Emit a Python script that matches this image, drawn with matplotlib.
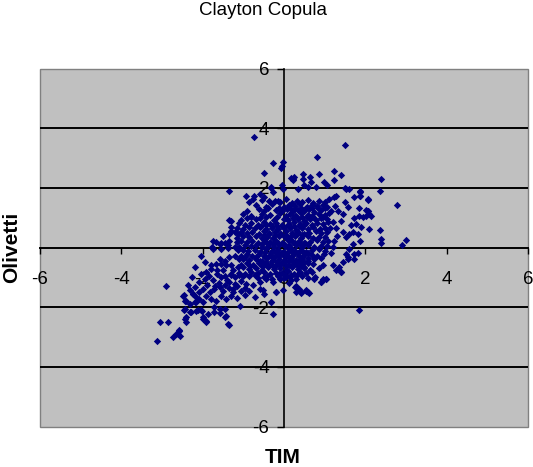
import numpy as np
import matplotlib
matplotlib.use('Agg')
import matplotlib.pyplot as plt
from matplotlib.patches import Rectangle

plt.rcParams['font.family'] = ['Liberation Sans', 'DejaVu Sans']

# points (TIM on x, Olivetti on y)
# sparse points above y=2
tim_top = [-0.74, -0.27, -0.05, -0.03, -0.50, -0.31, -1.34, 0.82, 1.49, 0.46,
           0.86, 1.22, 1.40, 1.22, 0.22, 0.24, 2.39, 2.35, 1.86, 1.53,
           1.59, 0.18, 0.22, 0.46, 0.63, 0.67, 0.50, 0.58, 0.79, 0.99,
           1.05, 0.34, -0.04, -0.03, -0.07, 1.28, 1.24, 1.86, 1.49]
oli_top = [3.70, 2.83, 2.72, 2.86, 2.51, 2.02, 1.89, 3.03, 3.45, 2.47,
           2.47, 2.56, 2.42, 2.25, 2.31, 2.36, 2.31, 1.89, 1.88, 1.97,
           1.97, 2.34, 2.25, 2.30, 2.36, 2.21, 2.10, 2.02, 2.04, 2.19,
           2.08, 1.97, 2.10, 1.97, 2.67, 1.74, 1.69, 1.72, 2.00]

tim_upleft = [-0.93, -0.73, -0.85, -0.75, -0.48, -0.36, -0.23, -0.15, -1.34, -1.30,
              -1.30, -0.31, -0.28, -0.60]
oli_upleft = [1.74, 1.72, 1.52, 1.63, 1.69, 1.57, 1.57, 1.57, 0.93, 0.90,
              0.57, 2.00, 1.85, 1.80]

# right side of the cloud
tim_right = [2.06, 2.77, 2.02, 2.06, 2.10, 2.35, 2.39, 2.39,
             3.00, 2.90, 1.86, 1.83, 1.73, 1.53, 1.57, 1.40,
             1.04, 0.91, 0.77, 1.84, 1.73, 1.86, 1.86, 2.06,
             2.10, 2.07, 2.02, 2.14, 1.85, 1.84, 1.94, 1.73,
             1.77, 1.65, 1.90, 1.69, 1.61, 1.53, 1.45, 1.82,
             1.49, 1.32, 1.45, 1.57, 1.40, 1.69, 1.61, 1.73,
             1.57, 1.45, 1.36, 1.28, 1.20, 1.40, 1.20, 1.16,
             1.24, 1.28, 1.20, 1.16, 0.96, 0.92, 1.04, 0.75]
oli_right = [1.58, 1.43, 1.26, 1.22, 1.13, 0.60, 0.27, 0.14,
             0.25, 0.09, 0.23, -0.19, -0.38, -0.21, -0.32, -0.83,
             -1.05, -1.16, -0.99, -2.08, 1.69, 1.86, 1.72, 1.61,
             0.62, 1.24, 1.07, 1.07, 1.31, 1.07, 1.02, 0.99,
             0.79, 0.74, 0.70, 0.51, 0.46, 0.35, 0.51, 0.46,
             1.52, 1.24, 1.13, 1.36, 0.90, 0.12, -0.04, -0.21,
             -0.38, -0.49, -0.66, -0.77, -0.60, -0.82, 0.02, -0.20,
             0.23, 0.64, 0.84, 1.24, -1.07, -1.16, -1.05, -1.05]

# left side and lower tail
tim_left = [-1.75, -1.67, -1.54, -1.38, -2.03, -1.76, -1.54, -2.18,
            -2.90, -2.46, -2.42, -2.24, -2.16, -2.20, -2.46, -2.32,
            -2.16, -2.01, -2.40, -2.42, -1.99, -1.91, -3.06, -2.85,
            -2.59, -2.65, -2.55, -2.73, -3.12, -1.38, -1.46, -1.58,
            -1.71, -1.09, -0.72, -0.52, -0.27, -0.31, -0.19, -1.30,
            -1.16, -1.49, -1.34, -1.21, -1.58, -1.46, -1.34, -1.75,
            -1.38, -1.21, -1.58, -1.46, -1.34, -1.21, -1.42, -1.30,
            -1.50, -1.25, -1.67, -1.79, -1.91, -1.13, -1.16, -1.13,
            -1.11, -1.13]
oli_left = [0.21, 0.18, 0.15, 0.10, -0.27, 0.01, -0.05, -0.66,
            -1.30, -1.60, -1.78, -1.56, -1.67, -1.83, -2.08, -2.17,
            -2.14, -2.14, -2.32, -2.49, -2.41, -2.49, -2.49, -2.49,
            -2.79, -2.90, -2.96, -3.00, -3.15, -2.58, -2.34, -2.20,
            -2.17, -1.95, -1.67, -1.44, -2.23, -1.83, -1.50, 0.70,
            0.66, 0.40, 0.46, 0.51, 0.12, 0.14, 0.23, -0.05,
            -0.02, 0.01, -0.38, -0.44, -0.33, -0.30, -0.60, -0.60,
            -0.77, -0.77, -0.55, -0.71, -0.83, 0.46, 0.18, -0.10,
            -0.38, -0.66]

tim_low = [-2.44, -2.44, -2.28, -2.12, -2.03, -1.99, -1.91, -1.87,
           -1.71, -1.58, -1.46, -1.42, -1.36, -2.49, -2.44, -2.32,
           -2.20, -2.24, -2.08, -1.99, -2.08, -1.91, -1.83, -1.71,
           -1.79, -1.67, -1.54, -1.42, -1.30, -1.25, -1.58, -1.46,
           -1.34, -1.21, -1.99, -2.32, -2.16, -2.61, -2.57]
oli_low = [-2.39, -2.06, -2.17, -2.11, -2.11, -2.34, -2.45, -2.23,
           -2.00, -2.06, -2.06, -2.28, -2.59, -1.61, -1.78, -1.44,
           -1.33, -1.56, -1.50, -1.39, -1.72, -1.61, -1.50, -1.39,
           -1.72, -1.78, -1.61, -1.72, -1.61, -1.39, -1.33, -1.27,
           -1.16, -1.22, -1.83, -1.89, -1.83, -2.90, -2.78]

tim_lowmid = [-0.31, -0.19, -0.48, -0.60, 0.26, 0.38, 0.55, 0.59,
              0.42, 0.30, -1.05, -0.93, -0.76, -0.60, -0.44, -0.27,
              -0.11, -0.03, 0.05, 0.18, 0.30, 0.42, 0.54, 0.62, 0.12]
oli_lowmid = [-1.81, -1.50, -1.56, -1.39, -1.33, -1.39, -1.44, -1.50,
              -1.48, -1.28, -1.11, -1.22, -1.27, -1.16, -1.05, -1.16,
              -1.05, -1.42, -1.00, -1.10, -1.50, -1.52, -1.46, -1.53, -1.20]

tim_lowfill = [-1.95, -1.85, -1.75, -1.65, -1.60, -1.55, -1.45, -1.40,
               -1.30, -1.20, -1.10, -1.00, -2.05, -2.10, -1.90, -1.70,
               -1.50, -1.35, -1.15, -1.05, -0.95, -1.25, -1.15, -0.95,
               -0.85, -1.80, -1.65, -1.55, -1.95, -2.25, -2.35]
oli_lowfill = [-1.05, -0.95, -1.10, -0.90, -1.20, -1.00, -0.95, -1.10,
               -0.90, -1.00, -0.85, -0.95, -0.90, -1.15, -1.25, -1.30,
               -1.45, -1.35, -1.30, -1.45, -1.35, -1.50, -1.70, -1.60,
               -1.45, -0.60, -0.75, -0.55, -0.50, -1.00, -1.25]

# dense core of the cloud
tim_core_hi = [-0.55, -0.10, 0.05, 0.20, 0.32, 0.45, 0.60, 0.72, 0.85, 1.00, 1.10,
               -0.70, -0.45, -0.30, 0.00, 0.12, 0.28, 0.40, 0.55, 0.68, 0.80, 0.95, 1.05, 1.25,
               -0.90, -0.62, -0.50, -0.20, -0.05, 0.08, 0.20, 0.35, 0.50, 0.62, 0.75, 0.90, 1.00,
               -1.00, -0.80, -0.55, -0.35, -0.10, 0.05, 0.15, 0.30, 0.42, 0.58, 0.70, 0.85, 1.00, 1.10,
               -1.05, -0.92, -0.70, -0.58, -0.25, 0.00, 0.10, 0.22, 0.35, 0.50, 0.65, 0.78, 0.90, 1.05,
               -1.10, -0.95, -0.80, -0.65, -0.50, -0.35, -0.20, -0.05, 0.12, 0.25, 0.40, 0.55, 0.70, 0.82, 0.95, 1.08]
oli_core_hi = [1.59, 1.52, 1.61, 1.50, 1.56, 1.53, 1.60, 1.49, 1.57, 1.54, 1.62,
               1.44, 1.37, 1.46, 1.35, 1.41, 1.38, 1.45, 1.34, 1.42, 1.39, 1.43, 1.36, 1.40,
               1.22, 1.29, 1.21, 1.27, 1.24, 1.30, 1.20, 1.26, 1.23, 1.28, 1.19, 1.25, 1.31,
               1.13, 1.06, 1.12, 1.08, 1.15, 1.05, 1.11, 1.07, 1.14, 1.09, 1.04, 1.12, 1.08, 1.15,
               0.92, 0.98, 0.94, 0.99, 0.91, 0.97, 0.93, 1.00, 0.95, 0.90, 0.96, 0.92, 0.99, 0.94,
               0.83, 0.77, 0.81, 0.76, 0.84, 0.79, 0.82, 0.75, 0.80, 0.85, 0.78, 0.83, 0.76, 0.81, 0.79, 0.84]

tim_core_md = [-1.00, -0.85, -0.72, -0.60, -0.45, -0.30, -0.15, 0.00, 0.15, 0.30, 0.45, 0.60, 0.72, 0.88, 1.00, 1.12,
               -1.05, -0.90, -0.78, -0.62, -0.50, -0.38, -0.22, -0.08, 0.05, 0.20, 0.35, 0.50, 0.62, 0.78, 0.92, 1.05,
               -1.15, -1.00, -0.85, -0.70, -0.55, -0.42, -0.28, -0.12, 0.02, 0.15, 0.28, 0.42, 0.58, 0.72, 0.85, 1.00, 1.30,
               -1.05, -0.92, -0.78, -0.65, -0.50, -0.35, -0.20, -0.05, 0.10, 0.22, 0.38, 0.50, 0.65, 0.80, 0.95, 1.08,
               -1.10, -0.95, -0.82, -0.68, -0.55, -0.40, -0.25, -0.12, 0.02, 0.18, 0.30, 0.45, 0.60, 0.75, 0.90, 1.05,
               -1.00, -0.88, -0.72, -0.60, -0.45, -0.30, -0.15, 0.00, 0.12, 0.28, 0.42, 0.55, 0.70, 0.85, 1.00]
oli_core_md = [0.62, 0.68, 0.64, 0.69, 0.61, 0.66, 0.63, 0.70, 0.65, 0.60, 0.67, 0.63, 0.69, 0.62, 0.66, 0.64,
               0.53, 0.47, 0.52, 0.46, 0.54, 0.49, 0.51, 0.45, 0.55, 0.48, 0.52, 0.46, 0.50, 0.54, 0.47, 0.51,
               0.32, 0.38, 0.34, 0.39, 0.31, 0.36, 0.33, 0.40, 0.35, 0.30, 0.37, 0.33, 0.39, 0.32, 0.36, 0.34, 0.38,
               0.23, 0.17, 0.22, 0.16, 0.24, 0.19, 0.21, 0.15, 0.25, 0.18, 0.22, 0.16, 0.20, 0.24, 0.17, 0.21,
               0.02, 0.08, 0.04, 0.09, 0.01, 0.06, 0.03, 0.10, 0.05, 0.00, 0.07, 0.03, 0.09, 0.02, 0.06, 0.04,
               -0.07, -0.13, -0.08, -0.14, -0.06, -0.11, -0.09, -0.15, -0.05, -0.12, -0.08, -0.14, -0.10, -0.06, -0.13]

tim_core_lo = [-1.05, -0.90, -0.78, -0.62, -0.50, -0.35, -0.20, -0.05, 0.10, 0.25, 0.38, 0.52, 0.68, 0.82, 0.98,
               -1.00, -0.85, -0.70, -0.55, -0.42, -0.28, -0.12, 0.02, 0.18, 0.30, 0.45, 0.60, 0.75, 0.90,
               -1.05, -0.90, -0.75, -0.62, -0.48, -0.32, -0.18, -0.02, 0.12, 0.28, 0.42, 0.58, 0.72, 0.95,
               -1.00, -0.85, -0.70, -0.55, -0.40, -0.25, -0.10, 0.05, 0.20, 0.35, 0.50, 0.65, 0.85,
               -0.95, -0.80, -0.65, -0.50, -0.35, -0.20, -0.05, 0.10, 0.25, 0.40, 0.55, 0.70,
               -0.85, -0.65, -0.50, -0.30, -0.15, 0.00, 0.15, 0.30, 0.45, 0.60]
oli_core_lo = [-0.28, -0.22, -0.27, -0.21, -0.29, -0.24, -0.26, -0.20, -0.30, -0.23, -0.27, -0.21, -0.25, -0.29, -0.22,
               -0.37, -0.43, -0.38, -0.44, -0.36, -0.41, -0.39, -0.45, -0.35, -0.42, -0.38, -0.44, -0.40, -0.36,
               -0.58, -0.52, -0.57, -0.51, -0.59, -0.54, -0.56, -0.50, -0.60, -0.53, -0.57, -0.51, -0.55, -0.59,
               -0.67, -0.73, -0.68, -0.74, -0.66, -0.71, -0.69, -0.75, -0.65, -0.72, -0.68, -0.74, -0.70,
               -0.88, -0.82, -0.87, -0.81, -0.89, -0.84, -0.86, -0.80, -0.90, -0.83, -0.87, -0.81,
               -0.97, -1.03, -0.98, -1.04, -0.96, -1.01, -0.99, -1.05, -0.95, -1.02]

tim_mid = [-0.57, -0.43, -0.29, -0.16, -0.02, 0.11, 0.24, 0.37, 0.50,
           -0.50, -0.36, -0.22, -0.09, 0.04, 0.17, 0.31, 0.44, 0.57,
           -0.55, -0.41, -0.27, -0.14, 0.00, 0.13, 0.26, 0.39, 0.52,
           -0.47, -0.33, -0.19, -0.06, 0.07, 0.20, 0.34, 0.47, 0.60,
           -0.58, -0.44, -0.30, -0.17, -0.03, 0.10, 0.23, 0.36, 0.49]
oli_mid = [0.72, 0.74, 0.71, 0.73, 0.70, 0.75, 0.72, 0.71, 0.74,
           0.42, 0.44, 0.41, 0.45, 0.43, 0.40, 0.44, 0.42, 0.45,
           0.12, 0.14, 0.11, 0.15, 0.13, 0.10, 0.14, 0.12, 0.15,
           -0.16, -0.18, -0.15, -0.19, -0.17, -0.14, -0.18, -0.16, -0.19,
           -0.46, -0.48, -0.45, -0.49, -0.47, -0.44, -0.48, -0.46, -0.49]

tim_mid2 = [-0.40, -0.12, 0.14, 0.27, 0.43, 0.56, 0.69, 0.83,
            -0.82, -0.45, -0.18, 0.06, 0.28, 0.44, 0.57, 0.72, 0.97,
            -0.95, -0.70, -0.43, -0.27, -0.12, 0.03, 0.17, 0.45, 0.60,
            -0.83, -0.55, -0.40, -0.25, -0.10, 0.05, 0.20, 0.35, 0.50,
            -1.30, -1.10, -0.72, -0.42, -0.12, 0.03, 0.18, 0.32]
oli_mid2 = [1.33, 1.31, 1.34, 1.30, 1.32, 1.35, 1.31, 1.33,
            1.02, 1.01, 1.03, 1.00, 1.04, 1.02, 1.01, 1.03, 1.02,
            -0.33, -0.31, -0.32, -0.34, -0.30, -0.33, -0.31, -0.32, -0.34,
            -0.63, -0.61, -0.62, -0.64, -0.60, -0.63, -0.61, -0.62, -0.64,
            -0.93, -0.91, -0.92, -0.94, -0.90, -0.93, -0.91, -0.92]

tim = np.concatenate([tim_top, tim_upleft, tim_right, tim_left, tim_low, tim_lowmid,
                      tim_lowfill, tim_core_hi, tim_core_md, tim_core_lo, tim_mid, tim_mid2])
olivetti = np.concatenate([oli_top, oli_upleft, oli_right, oli_left, oli_low, oli_lowmid,
                           oli_lowfill, oli_core_hi, oli_core_md, oli_core_lo, oli_mid, oli_mid2])

ticks = [-6, -4, -2, 0, 2, 4, 6]

fig = plt.figure(figsize=(5.33, 4.67), dpi=100)
ax = fig.add_axes([0.075, 0.0867, 0.9156, 0.7666])
ax.set_facecolor('#C0C0C0')
ax.set_xlim(-6, 6)
ax.set_ylim(-6, 6)

# horizontal gridlines
for g in [-4, -2, 2, 4]:
    ax.axhline(g, color='black', lw=1.4, zorder=1)

# axes crossing in the middle
ax.spines['left'].set_position('zero')
ax.spines['bottom'].set_position('zero')
ax.spines['top'].set_visible(False)
ax.spines['right'].set_visible(False)
ax.spines['left'].set_linewidth(1.2)
ax.spines['bottom'].set_linewidth(1.4)
ax.add_patch(Rectangle((0, 0), 1, 1, transform=ax.transAxes, fill=False,
                       edgecolor='#808080', lw=1.0, clip_on=False, zorder=0.5))

ax.set_xticks(ticks)
ax.set_yticks(ticks)
ax.set_xticklabels([str(t) for t in ticks])
ax.set_yticklabels([str(t) for t in ticks])
ax.tick_params(axis='x', direction='out', length=4, width=1, pad=13, labelsize=13.5)
ax.tick_params(axis='y', direction='out', length=5, width=1, pad=5.5, labelsize=13.5)

ax.scatter(tim, olivetti, marker='D', s=14, color='#000080', linewidths=0, zorder=3)

fig.text(0.494, 0.996, 'Clayton Copula', ha='center', va='top', fontsize=13.5)
fig.text(0.531, 0.02, 'TIM', ha='center', va='center', fontsize=15, fontweight='bold')
fig.text(0.022, 0.47, 'Olivetti', ha='center', va='center', rotation=90,
         fontsize=15, fontweight='bold')

fig.savefig('out.png', dpi=100)
